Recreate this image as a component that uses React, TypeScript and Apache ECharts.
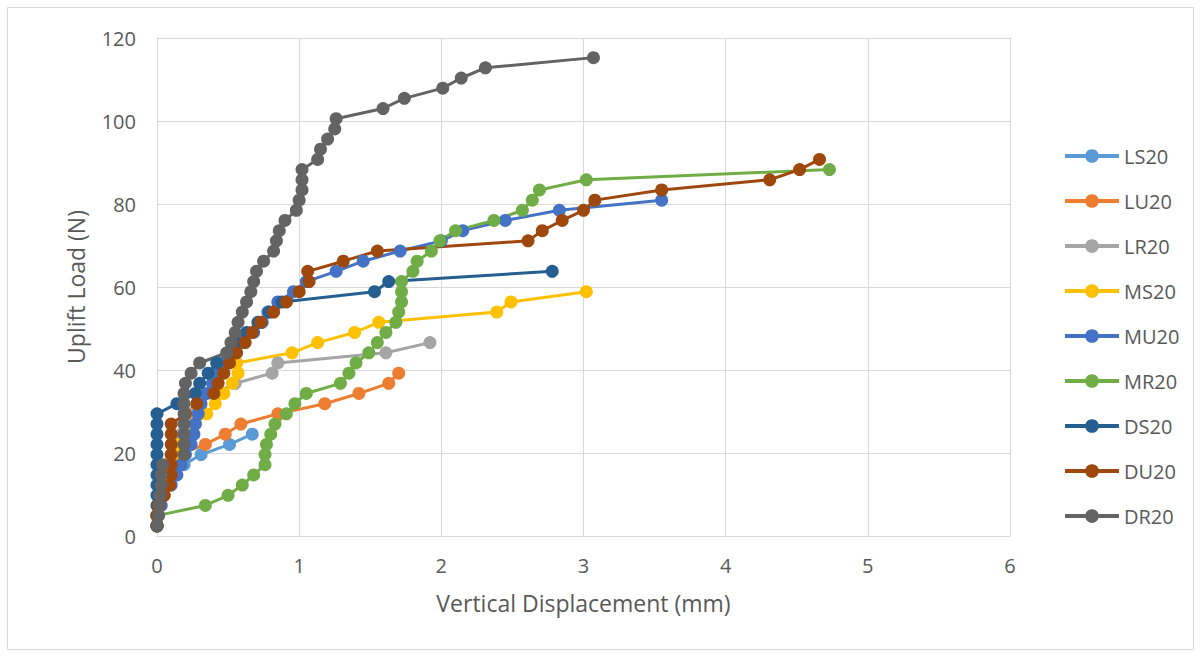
import React, { useEffect, useRef } from "react";
import * as echarts from "echarts";

const seriesNames = ["LS20", "LU20", "LR20", "MS20", "MU20", "MR20", "DS20", "DU20", "DR20"];
const seriesColors = ["#5B9BD5", "#ED7D31", "#A5A5A5", "#FFC000", "#4472C4", "#70AD47", "#255E91", "#9E480E", "#636363"];

const xTicks = [0, 1, 2, 3, 4, 5, 6];
const yTicks = [0, 20, 40, 60, 80, 100, 120];

// LS20
const lsX = [0, 0, 0.01, 0.03, 0.06, 0.1, 0.19, 0.31, 0.51, 0.67];
const lsY = [2.45, 4.91, 7.36, 9.81, 12.26, 14.72, 17.17, 19.62, 22.07, 24.53];
// LU20
const luX = [0, 0.01, 0.02, 0.04, 0.06, 0.08, 0.1, 0.15, 0.34, 0.48, 0.59, 0.85, 1.18, 1.42, 1.63, 1.7];
const luY = [2.45, 4.91, 7.36, 9.81, 12.26, 14.72, 17.17, 19.62, 22.07, 24.53, 26.98, 29.43, 31.88, 34.34, 36.79, 39.24];
// LR20
const lrX = [0, 0, 0.01, 0.02, 0.03, 0.05, 0.07, 0.1, 0.13, 0.17, 0.2, 0.25, 0.3, 0.4, 0.55, 0.81, 0.85, 1.61, 1.92];
const lrY = [2.45, 4.91, 7.36, 9.81, 12.26, 14.72, 17.17, 19.62, 22.07, 24.53, 26.98, 29.43, 31.88, 34.34, 36.79, 39.24, 41.69, 44.15, 46.6];
// MS20
const msX = [0, 0, 0.01, 0.02, 0.03, 0.05, 0.08, 0.12, 0.16, 0.2, 0.27, 0.35, 0.41, 0.47, 0.53, 0.57, 0.56, 0.95, 1.13, 1.39, 1.56, 2.39, 2.49, 3.02];
const msY = [2.45, 4.91, 7.36, 9.81, 12.26, 14.72, 17.17, 19.62, 22.07, 24.53, 26.98, 29.43, 31.88, 34.34, 36.79, 39.24, 41.69, 44.15, 46.6, 49.05, 51.5, 53.96, 56.41, 58.86];
// MU20
const muX = [0, 0.01, 0.03, 0.05, 0.1, 0.14, 0.17, 0.2, 0.24, 0.26, 0.27, 0.29, 0.31, 0.35, 0.39, 0.42, 0.47, 0.55, 0.6, 0.68, 0.74, 0.78, 0.85, 0.96, 1.05, 1.26, 1.45, 1.71, 2.0, 2.15, 2.45, 2.83, 3.55];
const muY = [2.45, 4.91, 7.36, 9.81, 12.26, 14.72, 17.17, 19.62, 22.07, 24.53, 26.98, 29.43, 31.88, 34.34, 36.79, 39.24, 41.69, 44.15, 46.6, 49.05, 51.5, 53.96, 56.41, 58.86, 61.31, 63.77, 66.22, 68.67, 71.12, 73.58, 76.03, 78.48, 80.93];
// MR20
const mrX = [0, 0.34, 0.5, 0.6, 0.68, 0.76, 0.76, 0.77, 0.8, 0.83, 0.91, 0.97, 1.05, 1.29, 1.35, 1.4, 1.49, 1.55, 1.61, 1.68, 1.7, 1.72, 1.72, 1.72, 1.8, 1.83, 1.93, 1.99, 2.1, 2.37, 2.57, 2.64, 2.69, 3.02, 4.73];
const mrY = [4.91, 7.36, 9.81, 12.26, 14.72, 17.17, 19.62, 22.07, 24.53, 26.98, 29.43, 31.88, 34.34, 36.79, 39.24, 41.69, 44.15, 46.6, 49.05, 51.5, 53.96, 56.41, 58.86, 61.31, 63.77, 66.22, 68.67, 71.12, 73.58, 76.03, 78.48, 80.93, 83.39, 85.84, 88.29];
// DS20
const dsX = [0, 0, 0, 0, 0, 0, 0, 0, 0, 0, 0, 0, 0.14, 0.27, 0.3, 0.36, 0.42, 0.5, 0.56, 0.63, 0.71, 0.79, 0.88, 1.53, 1.63, 2.78];
const dsY = [2.45, 4.91, 7.36, 9.81, 12.26, 14.72, 17.17, 19.62, 22.07, 24.53, 26.98, 29.43, 31.88, 34.34, 36.79, 39.24, 41.69, 44.15, 46.6, 49.05, 51.5, 53.96, 56.41, 58.86, 61.31, 63.77];
// DU20
const duX = [0, 0, 0.01, 0.05, 0.09, 0.1, 0.1, 0.1, 0.1, 0.1, 0.1, 0.2, 0.28, 0.4, 0.43, 0.47, 0.51, 0.56, 0.62, 0.67, 0.73, 0.82, 0.91, 1.0, 1.07, 1.06, 1.31, 1.55, 2.61, 2.71, 2.85, 3.0, 3.08, 3.55, 4.31, 4.52, 4.66];
const duY = [2.45, 4.91, 7.36, 9.81, 12.26, 14.72, 17.17, 19.62, 22.07, 24.53, 26.98, 29.43, 31.88, 34.34, 36.79, 39.24, 41.69, 44.15, 46.6, 49.05, 51.5, 53.96, 56.41, 58.86, 61.31, 63.77, 66.22, 68.67, 71.12, 73.58, 76.03, 78.48, 80.93, 83.39, 85.84, 88.29, 90.74];
// DR20
const drX = [0, 0.01, 0.02, 0.02, 0.03, 0.03, 0.04, 0.19, 0.19, 0.19, 0.19, 0.19, 0.19, 0.19, 0.2, 0.24, 0.3, 0.49, 0.52, 0.55, 0.57, 0.6, 0.63, 0.66, 0.68, 0.7, 0.75, 0.82, 0.84, 0.86, 0.9, 0.98, 1.0, 1.02, 1.02, 1.02, 1.13, 1.15, 1.2, 1.25, 1.26, 1.59, 1.74, 2.01, 2.14, 2.31, 3.07];
const drY = [2.45, 4.91, 7.36, 9.81, 12.26, 14.72, 17.17, 19.62, 22.07, 24.53, 26.98, 29.43, 31.88, 34.34, 36.79, 39.24, 41.69, 44.15, 46.6, 49.05, 51.5, 53.96, 56.41, 58.86, 61.31, 63.77, 66.22, 68.67, 71.12, 73.58, 76.03, 78.48, 80.93, 83.39, 85.84, 88.29, 90.74, 93.2, 95.65, 98.1, 100.55, 103.01, 105.46, 107.91, 110.36, 112.82, 115.27];

const allX = [lsX, luX, lrX, msX, muX, mrX, dsX, duX, drX];
const allY = [lsY, luY, lrY, msY, muY, mrY, dsY, duY, drY];

const FONT = "'Open Sans', sans-serif";

export default function App() {
  const ref = useRef<HTMLDivElement>(null);
  useEffect(() => {
    if (!ref.current) return;
    const chart = echarts.init(ref.current, null, { renderer: "svg" });
    const series = seriesNames.map((name, i) => ({
      name,
      type: "line",
      data: allX[i].map((x, j) => [x, allY[i][j]]),
      symbol: "circle",
      symbolSize: 13,
      showSymbol: true,
      lineStyle: { width: 3, color: seriesColors[i] },
      itemStyle: { color: seriesColors[i] },
      smooth: false,
    }));
    chart.setOption({
      animation: false,
      backgroundColor: "#ffffff",
      textStyle: { fontFamily: FONT },
      grid: { left: 157, top: 38, right: 191, bottom: 121, containLabel: false },
      legend: {
        orient: "vertical",
        left: 1063,
        top: 146,
        padding: 0,
        itemWidth: 54,
        itemHeight: 17,
        itemGap: 25,
        data: seriesNames,
        lineStyle: { width: 4 },
        textStyle: { fontFamily: FONT, fontSize: 20, lineHeight: 20, color: "#595959" },
      },
      graphic: [
        {
          type: "rect",
          shape: { x: 7.5, y: 7.5, width: 1186, height: 642 },
          style: { fill: "none", stroke: "#d9d9d9", lineWidth: 1 },
          silent: true,
        },
      ],
      xAxis: {
        type: "value",
        min: xTicks[0],
        max: xTicks[xTicks.length - 1],
        interval: 1,
        name: "Vertical Displacement (mm)",
        nameLocation: "middle",
        nameGap: 55,
        nameTextStyle: { fontFamily: FONT, fontSize: 23, color: "#595959" },
        axisLine: { show: true, lineStyle: { color: "#d9d9d9", width: 1 } },
        axisTick: { show: false },
        axisLabel: { margin: 19, fontFamily: FONT, fontSize: 20, color: "#595959" },
        splitLine: { show: true, lineStyle: { color: "#d9d9d9", width: 1 } },
      },
      yAxis: {
        type: "value",
        min: yTicks[0],
        max: yTicks[yTicks.length - 1],
        interval: 20,
        name: "Uplift Load (N)",
        nameLocation: "middle",
        nameGap: 70,
        nameRotate: 90,
        nameTextStyle: { fontFamily: FONT, fontSize: 23, color: "#595959" },
        axisLine: { show: true, lineStyle: { color: "#d9d9d9", width: 1 } },
        axisTick: { show: false },
        axisLabel: { margin: 21, fontFamily: FONT, fontSize: 20, color: "#595959" },
        splitLine: { show: true, lineStyle: { color: "#d9d9d9", width: 1 } },
      },
      series,
    });
    return () => chart.dispose();
  }, []);
  return <div ref={ref} style={{ position: "absolute", left: 0, top: 0, width: 1201, height: 657 }} />;
}
